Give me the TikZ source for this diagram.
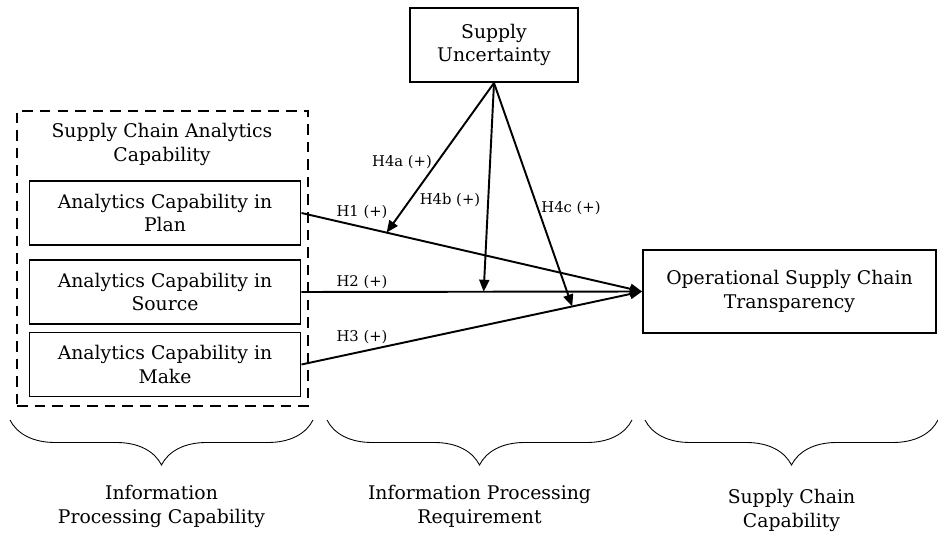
\documentclass[tikz,border=0pt]{standalone}
\usepackage{fontspec}
\setmainfont{DejaVu Serif}
\usetikzlibrary{arrows.meta,positioning,decorations.pathreplacing}

\begin{document}
\begin{tikzpicture}[
        capbox/.style={rectangle, draw, line width=1.1pt, minimum width=5.42cm,
                       minimum height=1.28cm, align=center, font=\fontsize{10.7}{13.6}\selectfont},
        varbox/.style={rectangle, draw, line width=1.1pt, align=center,
                       font=\fontsize{10.7}{13.6}\selectfont},
        hyp/.style={-{Triangle[length=0.24cm,width=0.2cm]}, line width=1.1pt},
        hlbl/.style={font=\fontsize{8.4}{9}\selectfont, inner sep=1pt},
        grpbrace/.style={decorate, decoration={brace, mirror, amplitude=0.9cm}, line width=0.5pt},
        grplbl/.style={align=center, font=\fontsize{10.7}{13.6}\selectfont}
      ]
        \useasboundingbox (0,0) rectangle (18.76,-10.66);
        % construct and its three dimensions
        \node[draw, line width=1.1pt, dash pattern=on 6pt off 4pt, minimum width=5.82cm,
              minimum height=5.9cm] (scac) at (3.25,-5.17) {};
        \node[align=center, font=\fontsize{10.7}{13.6}\selectfont] (scactitle) at (3.24,-2.88)
              {Supply Chain Analytics\\Capability};
        \node[capbox] (plan)   at (3.30,-4.26) {Analytics Capability in\\Plan};
        \node[capbox] (source) at (3.30,-5.84) {Analytics Capability in\\Source};
        \node[capbox] (make)   at (3.30,-7.29) {Analytics Capability in\\Make};
        \node[varbox, minimum width=3.36cm, minimum height=1.48cm] (su) at (9.88,-0.9)
              {Supply\\Uncertainty};
        \node[varbox, minimum width=5.86cm, minimum height=1.66cm] (osct) at (15.79,-5.83)
              {Operational Supply Chain\\Transparency};
        % main effects
        \draw[hyp] (plan.east)   -- coordinate[pos=0.25]  (h1m) (osct.west);
        \draw[hyp] (source.east) -- coordinate[pos=0.535] (h2m) (osct.west);
        \draw[hyp] (make.east)   -- coordinate[pos=0.795] (h3m) (osct.west);
        % moderation
        \draw[hyp] (su.south) -- (h1m);
        \draw[hyp] (su.south) -- (h2m);
        \draw[hyp] (su.south) -- (h3m);
        \node[hlbl] (h1lbl)  at (7.24,-4.24)  {H1 (+)};
        \node[hlbl] (h2lbl)  at (7.24,-5.64)  {H2 (+)};
        \node[hlbl] (h3lbl)  at (7.24,-6.74)  {H3 (+)};
        \node[hlbl] (h4albl) at (8.04,-3.24)  {H4a (+)};
        \node[hlbl] (h4blbl) at (9.00,-4.00)  {H4b (+)};
        \node[hlbl] (h4clbl) at (11.42,-4.16) {H4c (+)};
        % theory groups
        \draw[grpbrace] (0.2,-8.4) -- (6.26,-8.4)
              node[grplbl, midway, yshift=-1.72cm] (ipcap) {Information\\Processing Capability};
        \draw[grpbrace] (6.54,-8.4) -- (12.64,-8.4)
              node[grplbl, midway, yshift=-1.72cm] (ipreq) {Information Processing\\Requirement};
        \draw[grpbrace] (12.9,-8.4) -- (18.76,-8.4)
              node[grplbl, midway, yshift=-1.8cm] (sccap) {Supply Chain\\Capability};
      \end{tikzpicture}
\end{document}
